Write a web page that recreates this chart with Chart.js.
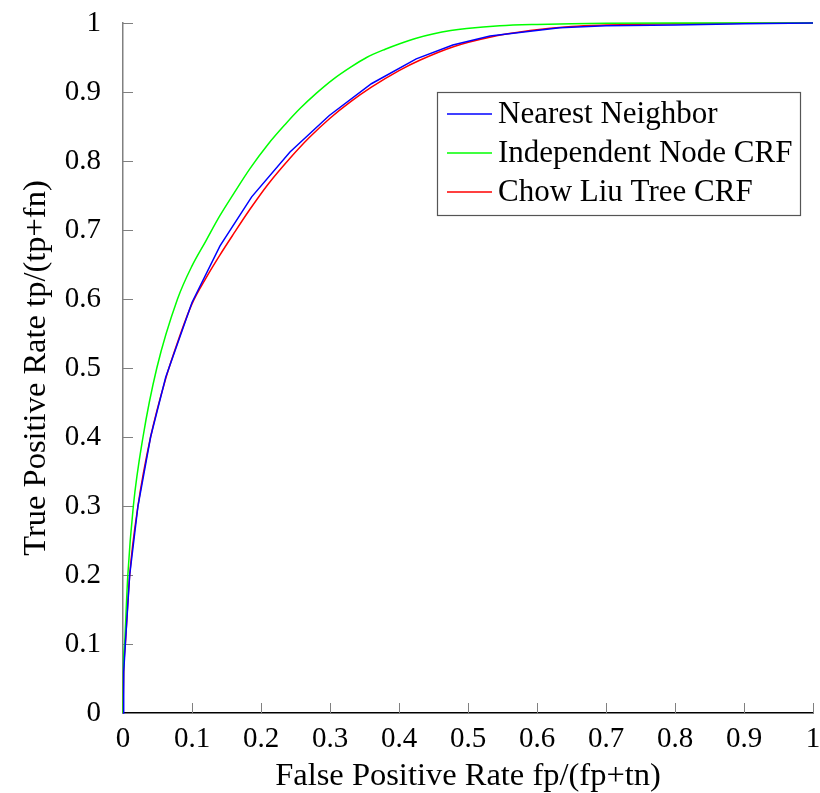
<!DOCTYPE html>
<html>
<head>
<meta charset="utf-8">
<script src="https://cdn.jsdelivr.net/npm/chart.js@4/dist/chart.umd.min.js"></script>
<style>
  html, body { margin: 0; padding: 0; background: #fff; }
  canvas { display: block; }
</style>
</head>
<body>
<canvas id="roc" width="820" height="793"></canvas>
<script>
// ==================== data ====================
const seriesLabels = ['Nearest Neighbor', 'Independent Node CRF', 'Chow Liu Tree CRF'];

const nnFpr = [0, 0.001, 0.0034, 0.0097, 0.0217, 0.040, 0.062, 0.100, 0.1406, 0.1865, 0.242, 0.2990, 0.360, 0.425, 0.478, 0.532, 0.590, 0.633, 0.700, 0.800, 0.900, 1];
const nnTpr = [0, 0.06, 0.1, 0.2, 0.3, 0.4, 0.487, 0.595, 0.677, 0.748, 0.813, 0.866, 0.912, 0.948, 0.968, 0.981, 0.988, 0.993, 0.996, 0.997, 0.999, 1];

const indFpr = [0, 0.0008, 0.0024, 0.007, 0.015, 0.029, 0.049, 0.079, 0.10, 0.12, 0.14, 0.16, 0.184, 0.21, 0.235, 0.2565, 0.28, 0.304, 0.33, 0.353, 0.38, 0.401, 0.425, 0.449, 0.475, 0.498, 0.546, 0.60, 0.65, 0.70, 0.80, 1];
const indTpr = [0, 0.07, 0.1, 0.2, 0.3, 0.4, 0.5, 0.6, 0.648, 0.684, 0.72, 0.752, 0.789, 0.824, 0.853, 0.876, 0.898, 0.918, 0.936, 0.950, 0.962, 0.970, 0.978, 0.984, 0.989, 0.992, 0.996, 0.998, 0.999, 0.9995, 1, 1];

const clFpr = [0, 0.001, 0.0034, 0.0097, 0.0217, 0.040, 0.062, 0.08, 0.100, 0.12, 0.1406, 0.16, 0.184, 0.21, 0.242, 0.27, 0.30, 0.33, 0.36, 0.40, 0.43, 0.48, 0.53, 0.59, 0.65, 0.70, 0.80, 0.90, 1];
const clTpr = [0, 0.06, 0.1, 0.2, 0.3, 0.4, 0.485, 0.540, 0.593, 0.630, 0.664, 0.694, 0.730, 0.766, 0.804, 0.834, 0.862, 0.886, 0.907, 0.931, 0.946, 0.966, 0.979, 0.989, 0.995, 0.997, 0.999, 0.9995, 1];

const axisTicks = [0, 0.1, 0.2, 0.3, 0.4, 0.5, 0.6, 0.7, 0.8, 0.9, 1];

// ==================== helpers ====================
const SERIF = '"Liberation Serif", "Times New Roman", serif';

function toPoints(xs, ys) {
    return xs.map((x, i) => ({ x, y: ys[i] }));
}

function fmtTick(v) {
    return String(Number(v.toFixed(1)));
}

// pgfplots style ticks, pointing into the plot
const inwardTicks = {
    id: 'inwardTicks',
    beforeDatasetsDraw(chart) {
        const { ctx, chartArea, scales } = chart;
        const len = 10;
        ctx.save();
        ctx.strokeStyle = '#808080';
        ctx.lineWidth = 1;
        ctx.beginPath();
        axisTicks.forEach(v => {
            const px = Math.round(scales.x.getPixelForValue(v)) + 0.5;
            ctx.moveTo(px, chartArea.bottom);
            ctx.lineTo(px, chartArea.bottom - len);
            const py = Math.round(scales.y.getPixelForValue(v)) + 0.5;
            ctx.moveTo(chartArea.left, py);
            ctx.lineTo(chartArea.left + len, py);
        });
        ctx.stroke();
        ctx.restore();
    }
};

// legend box inside the plot, upper right
const boxLegend = {
    id: 'boxLegend',
    afterDraw(chart) {
        const { ctx } = chart;
        const x0 = 437, y0 = 92, w = 363, h = 123;
        const rowH = 39;
        ctx.save();
        ctx.fillStyle = '#fff';
        ctx.fillRect(x0, y0, w, h);
        ctx.strokeStyle = '#555';
        ctx.lineWidth = 1.2;
        ctx.strokeRect(x0 + 0.5, y0 + 0.5, w, h);
        ctx.font = '31px ' + SERIF;
        ctx.textBaseline = 'middle';
        ctx.fillStyle = '#000';
        chart.data.datasets.forEach((ds, i) => {
            const cy = y0 + 22 + i * rowH;
            ctx.strokeStyle = ds.borderColor;
            ctx.lineWidth = 1.4;
            ctx.beginPath();
            ctx.moveTo(x0 + 10, cy);
            ctx.lineTo(x0 + 55, cy);
            ctx.stroke();
            ctx.fillText(ds.label, x0 + 61, cy + 1);
        });
        ctx.restore();
    }
};

// ==================== chart ====================
const ctx = document.getElementById('roc').getContext('2d');

const rocChart = new Chart(ctx, {
    type: 'line',
    data: {
        datasets: [
            {
                label: seriesLabels[0],
                data: toPoints(nnFpr, nnTpr),
                borderColor: '#0000ff',
                borderWidth: 1.5,
                pointRadius: 0,
                tension: 0
            },
            {
                label: seriesLabels[1],
                data: toPoints(indFpr, indTpr),
                borderColor: '#00ff00',
                borderWidth: 1.5,
                pointRadius: 0,
                cubicInterpolationMode: 'monotone'
            },
            {
                label: seriesLabels[2],
                data: toPoints(clFpr, clTpr),
                borderColor: '#ff0000',
                borderWidth: 1.5,
                pointRadius: 0,
                cubicInterpolationMode: 'monotone'
            }
        ]
    },
    options: {
        responsive: false,
        animation: false,
        events: [],
        clip: false,
        layout: { padding: { left: 20, right: 7, top: 23, bottom: 0 } },
        plugins: {
            legend: { display: false },
            tooltip: { enabled: false }
        },
        scales: {
            x: {
                type: 'linear',
                min: 0,
                max: 1,
                afterBuildTicks: s => { s.ticks = axisTicks.map(v => ({ value: v })); },
                afterFit: s => { s.height = 80; s.paddingLeft = 0; s.paddingRight = 0; },
                grid: { display: false },
                border: { display: true, color: '#000', width: 1.5 },
                ticks: {
                    callback: fmtTick,
                    color: '#000',
                    padding: 1,
                    maxRotation: 0,
                    font: { family: SERIF, size: 29 }
                },
                title: {
                    display: true,
                    text: 'False Positive Rate fp/(fp+tn)',
                    color: '#000',
                    padding: { top: 0, bottom: 0 },
                    font: { family: SERIF, size: 32.5, lineHeight: 1 }
                }
            },
            y: {
                type: 'linear',
                min: 0,
                max: 1,
                afterBuildTicks: s => { s.ticks = axisTicks.map(v => ({ value: v })); },
                afterFit: s => { s.width = 103; s.paddingTop = 0; s.paddingBottom = 0; },
                grid: { display: false },
                border: { display: true, color: '#808080', width: 1.5 },
                ticks: {
                    callback: fmtTick,
                    color: '#000',
                    padding: 14,
                    font: { family: SERIF, size: 29 }
                },
                title: {
                    display: true,
                    text: 'True Positive Rate tp/(tp+fn)',
                    color: '#000',
                    padding: { top: 0, bottom: 0 },
                    font: { family: SERIF, size: 32.5, lineHeight: 1 }
                }
            }
        }
    },
    plugins: [inwardTicks, boxLegend]
});
</script>
</body>
</html>
